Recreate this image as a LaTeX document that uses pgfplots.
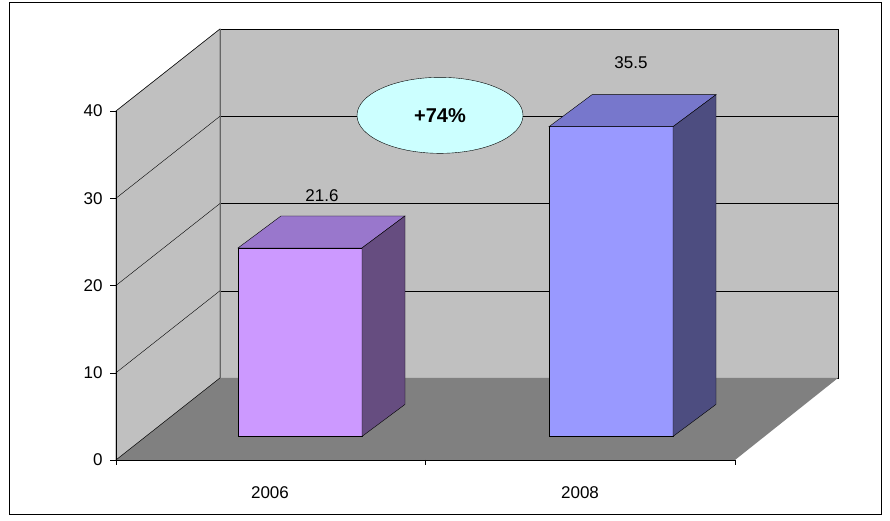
\documentclass[border=0pt]{standalone}
\usepackage{pgfplots}
\pgfplotsset{compat=1.18}
\usepackage{fontspec}
\setmainfont{Liberation Sans}
\definecolor{wall}{RGB}{192,192,192}
\definecolor{floorc}{RGB}{128,128,128}
\definecolor{aF}{RGB}{204,153,255}\definecolor{aT}{RGB}{153,119,204}\definecolor{aS}{RGB}{102,77,128}
\definecolor{bF}{RGB}{153,153,255}\definecolor{bT}{RGB}{119,119,204}\definecolor{bS}{RGB}{77,77,128}
\definecolor{ell}{RGB}{204,255,255}
\tikzset{lab/.style={font=\fontsize{17}{20}\selectfont}}
\begin{document}
\begin{tikzpicture}
\def\va{21.6}\def\vb{35.5}
\pgfmathsetmacro\b{2.7}
\pgfmathsetmacro\bd{2.7+3.667}
\pgfmathsetmacro\ta{2.7+\va}\pgfmathsetmacro\tad{\ta+3.667}
\pgfmathsetmacro\tb{2.7+\vb}\pgfmathsetmacro\tbd{\tb+3.667}
\begin{axis}[x=1pt,y=8.725pt,xmin=0,xmax=890,ymin=-6.99,ymax=52.72,hide axis,clip=false,scale only axis]
\fill[white] (axis cs:0,-6.99) rectangle (axis cs:890,52.72);
\draw[black] (axis cs:9,-6.19) rectangle (axis cs:881,52.49);
% walls
\addplot[fill=wall,draw=black,line width=0.4pt] coordinates {(220,9.398) (838,9.398) (838,49.398) (220,49.398)} --cycle;
\addplot[fill=wall,draw=black!60,line width=0.6pt] coordinates {(116,0) (220,9.398) (220,49.398) (116,40)} --cycle;
\addplot[fill=floorc,draw=none] coordinates {(116,0) (735,0) (838,9.398) (220,9.398)} --cycle;
\pgfplotsinvokeforeach{10,20,30,40}{
 \draw[black] (axis cs:220,9.398+#1) -- (axis cs:838,9.398+#1);
 \draw[black] (axis cs:116,#1) -- (axis cs:220,9.398+#1);
}
\draw[black] (axis cs:116,0) -- (axis cs:220,9.398);
\draw[black!60,line width=0.6pt] (axis cs:220,9.398) -- (axis cs:220,49.398);
% axes
\draw[black] (axis cs:116,0) -- (axis cs:116,40);
\draw[black] (axis cs:116,0) -- (axis cs:735,0);
\pgfplotsinvokeforeach{0,10,20,30,40}{
 \draw[black] (axis cs:110,#1) -- (axis cs:116,#1);
 \node[lab,anchor=east] at (axis cs:106,#1) {#1};
}
\pgfplotsinvokeforeach{116,425,735}{\draw[black] (axis cs:#1,0) -- (axis cs:#1,-0.6);}
\node[lab] at (axis cs:270,-3.8) {2006};
\node[lab] at (axis cs:580,-3.8) {2008};
% bar 1
\addplot[fill=aF,draw=black] coordinates {(238,\b) (362,\b) (362,\ta) (238,\ta)} --cycle;
\addplot[fill=aT,draw=black] coordinates {(238,\ta) (362,\ta) (405,\tad) (281,\tad)} --cycle;
\addplot[fill=aS,draw=black] coordinates {(362,\b) (405,\bd) (405,\tad) (362,\ta)} --cycle;
% bar 2
\addplot[fill=bF,draw=black] coordinates {(549,\b) (673,\b) (673,\tb) (549,\tb)} --cycle;
\addplot[fill=bT,draw=black] coordinates {(549,\tb) (673,\tb) (716,\tbd) (592,\tbd)} --cycle;
\addplot[fill=bS,draw=black] coordinates {(673,\b) (716,\bd) (716,\tbd) (673,\tb)} --cycle;
\node[lab] at (axis cs:322,30.3) {21.6};
\node[lab] at (axis cs:631,45.5) {35.5};
\draw[black,fill=ell] (axis cs:440,39.5) ellipse [x radius=83pt,y radius=38pt];
\node[font=\bfseries\fontsize{20}{24}\selectfont] at (axis cs:440,39.5) {+74\%};
\end{axis}
\end{tikzpicture}
\end{document}
